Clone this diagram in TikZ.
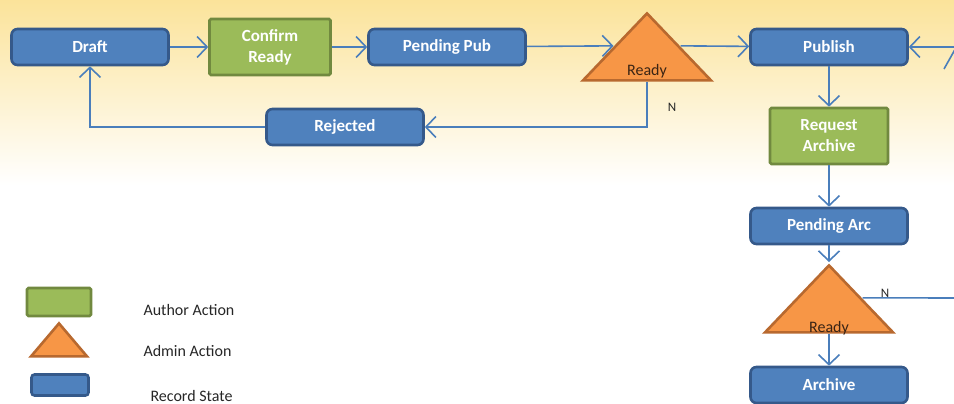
\documentclass[tikz,border=0pt]{standalone}
\usepackage{fontspec}
\setmainfont{Carlito}
\usetikzlibrary{arrows.meta,shapes.geometric}
\definecolor{statefill}{HTML}{4F81BD}
\definecolor{stateline}{HTML}{35598A}
\definecolor{authorfill}{HTML}{9BBB59}
\definecolor{authorline}{HTML}{71893F}
\definecolor{adminfill}{HTML}{F79646}
\definecolor{adminline}{HTML}{B8692F}
\definecolor{linkblue}{HTML}{4A7EBB}
\definecolor{bgyellow}{HTML}{FBE39A}
\definecolor{inktext}{HTML}{262626}
\definecolor{readytext}{HTML}{3A2414}

\begin{document}
\begin{tikzpicture}[x=1pt, y=-1pt,
every edge/.style = {draw=linkblue, line width=1.6pt,
      -{Straight Barb[length=10pt,width=21pt]}},
 link/.style = {draw=linkblue, line width=1.6pt},
 state/.style = {%
      rectangle, rounded corners=6pt, draw=stateline, line width=2.6pt,
      fill=statefill, text=white, font=\bfseries\fontsize{17}{21}\selectfont,
      minimum width=157pt, minimum height=36pt, inner sep=0pt},
 author/.style = {%
      rectangle, rounded corners=1.5pt, draw=authorline, line width=2.6pt,
      fill=authorfill, text=white, font=\bfseries\fontsize{17}{21}\selectfont,
      align=center, minimum width=#1, minimum height=56pt, inner sep=0pt},
 admin/.style args = {#1/#2}{%
      isosceles triangle, isosceles triangle stretches,
      shape border rotate=90, draw=adminline, line width=2.6pt,
      fill=adminfill, minimum width=128pt, minimum height=67pt, inner sep=0pt,
      anchor=apex,
      label={[anchor=south, inner sep=1pt, yshift=#1, text=readytext,
              font=\fontsize{16}{19}\selectfont]south:#2}},
 legtext/.style = {anchor=west, text=inktext, font=\fontsize{16}{20}\selectfont}
                    ]
\useasboundingbox (0,0) rectangle (954,404);
\clip (0,0) rectangle (954,404);
\shade[top color=bgyellow, bottom color=white] (0,0) rectangle (954,185);
%
\node(draft) [state] at (90, 47) {Draft};
\node(conf) [author=121pt] at (270, 47) {Confirm\\Ready};
\node(pp) [state] at (447, 47) {Pending Pub};
\node(r1) [admin=2pt/Ready] at (647, 10) {};
\node(pub) [state] at (829, 47) {Publish};
\node(rej) [state] at (345, 127) {Rejected};
\node(req) [author=118pt] at (829, 136) {Request\\Archive};
\node(pa) [state] at (829, 226) {Pending Arc};
\node(r2) [admin=-3pt/Ready] at (829, 262) {};
\node(arc) [state] at (829, 385) {Archive};
\node(n1) [text=inktext, font=\fontsize{13}{15}\selectfont] at (672, 107) {N};
\node(n2) [text=inktext, font=\fontsize{13}{15}\selectfont] at (885, 293) {N};
\coordinate (feed) at (962, 47);
\coordinate (exit2) at (962, 298);
\coordinate (loopfoot) at (944, 69);
\coordinate (loophead) at (962, 37);
%
\path   (draft)  edge (conf);
\path   (conf)  edge (pp);
\path   (pp)  edge (r1.left side);
\path   (r1.right side)  edge (pub);
\path   (feed)  edge (pub);
\path   (pub)  edge (req);
\path   (req)  edge (pa);
\path   (pa)  edge (r2.apex);
\path   (r2.lower side)  edge (arc);
\draw[link, -{Straight Barb[length=10pt,width=21pt]}] (r1.lower side) |- (rej);
\draw[link, -{Straight Barb[length=10pt,width=21pt]}] (rej) -| (draft);
\draw[link] (r2.right side) -- (exit2);
\draw[link] (loopfoot) -- (loophead);
%
\node(legauthor) [author=64pt, minimum height=28pt] at (59, 302) {};
\node(legadmin) [admin=0pt/{}, minimum width=56pt, minimum height=33pt] at (59, 320) {};
\node(legstate) [state, rounded corners=3pt, minimum width=57pt,
                 minimum height=21pt] at (60, 385) {};
\node(tauthor) [legtext] at (140, 310) {Author Action};
\node(tadmin) [legtext] at (140, 351) {Admin Action};
\node(tstate) [legtext] at (147, 396) {Record State};
\end{tikzpicture}
\end{document}
